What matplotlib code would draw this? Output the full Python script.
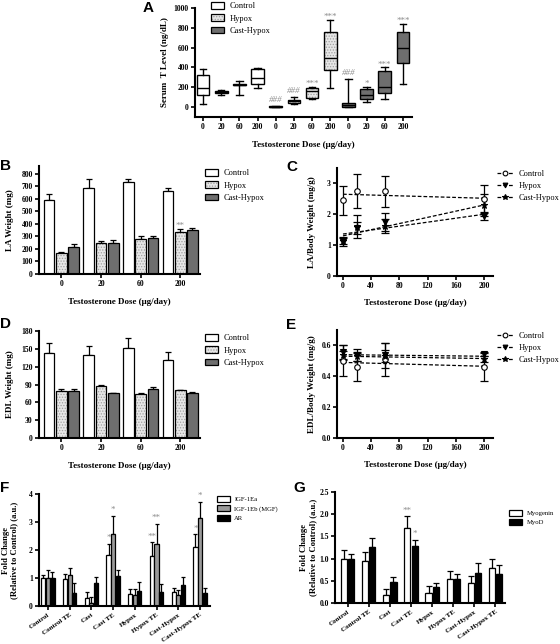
import matplotlib

matplotlib.use("Agg")
import matplotlib.pyplot as plt
import numpy as np
from matplotlib.lines import Line2D
from matplotlib.patches import Patch, PathPatch

W, H = 560, 644
SERIF = "Liberation Serif"
SANS = "Liberation Sans"
HATCH_FACE = "#e6e6e6"
HATCH_EDGE = "#a0a0a0"
DARK = "#6e6e6e"
MID = "#9a9a9a"
STAR = "#8c8c8c"
DASH = (0, (3, 1.6))

# Panel A: serum T boxes (Control x4, Hypox x4, Cast-Hypox x4)
A_DOSE_LABELS = ["0", "20", "60", "200"] * 3
A_GROUP = ["Control"] * 4 + ["Hypox"] * 4 + ["Cast-Hypox"] * 4
A_WHISLO = [35, 125, 120, 195, 0, 35, 85, 195, 0, 55, 85, 235]
A_Q1 = [125, 140, 220, 235, 2, 45, 90, 375, 5, 85, 145, 440]
A_MED = [195, 150, 225, 290, 5, 60, 165, 500, 20, 120, 200, 595]
A_Q3 = [320, 160, 230, 380, 10, 70, 195, 755, 45, 180, 365, 760]
A_WHISHI = [385, 175, 265, 395, 15, 100, 200, 880, 285, 205, 400, 835]
A_MARKS = ["", "", "", "", "###", "###", "***", "***", "###", "*", "***", "***"]

# Panels B and D: muscle weights by dose
DOSE_LABELS = ["0", "20", "60", "200"]
LA_CONTROL = [590, 685, 730, 660]
LA_CONTROL_SEM = [45, 75, 30, 25]
LA_HYPOX = [170, 245, 275, 335]
LA_HYPOX_SEM = [8, 20, 25, 25]
LA_CAST = [215, 245, 290, 350]
LA_CAST_SEM = [22, 22, 15, 20]
LA_HYPOX_MARKS = ["", "", "", "**"]

EDL_CONTROL = [143, 140, 151, 131]
EDL_CONTROL_SEM = [16, 15, 17, 14]
EDL_HYPOX = [79, 87, 74, 80]
EDL_HYPOX_SEM = [4, 3, 2, 1]
EDL_CAST = [79, 75, 83, 75]
EDL_CAST_SEM = [3, 1, 2, 3]

# Panels C and E: weight / body weight vs dose, with fitted dashed lines
DOSES = [0, 20, 60, 200]
FIT_X = [0, 200]
LABW_CONTROL = [2.45, 2.75, 2.75, 2.5]
LABW_CONTROL_SEM = [0.48, 0.55, 0.5, 0.45]
LABW_HYPOX = [1.1, 1.55, 1.75, 1.95]
LABW_HYPOX_SEM = [0.12, 0.2, 0.28, 0.12]
LABW_CAST = [1.15, 1.6, 1.62, 2.3]
LABW_CAST_SEM = [0.1, 0.37, 0.22, 0.35]
LABW_CONTROL_FIT = [2.65, 2.52]
LABW_HYPOX_FIT = [1.36, 2.0]
LABW_CAST_FIT = [1.3, 2.3]

EDLBW_CONTROL = [0.5, 0.46, 0.51, 0.46]
EDLBW_CONTROL_SEM = [0.1, 0.09, 0.105, 0.09]
EDLBW_HYPOX = [0.555, 0.54, 0.535, 0.545]
EDLBW_HYPOX_SEM = [0.045, 0.04, 0.08, 0.012]
EDLBW_CAST = [0.535, 0.53, 0.53, 0.51]
EDLBW_CAST_SEM = [0.03, 0.03, 0.04, 0.02]
EDLBW_CONTROL_FIT = [0.49, 0.465]
EDLBW_HYPOX_FIT = [0.54, 0.53]
EDLBW_CAST_FIT = [0.53, 0.515]

# Panels F and G: gene expression
GENE_GROUPS = ["Control", "Control TE", "Cast", "Cast TE",
               "Hypox", "Hypox TE", "Cast-Hypox", "Cast-Hypox TE"]
IGF_EA = [1.0, 0.95, 0.3, 1.83, 0.43, 1.78, 0.5, 2.12]
IGF_EA_SEM = [0.12, 0.18, 0.2, 0.4, 0.18, 0.5, 0.15, 0.45]
IGF_EA_MARKS = ["", "", "", "*", "", "**", "", "*"]
IGF_EB = [1.0, 1.1, 0.12, 2.57, 0.4, 2.23, 0.4, 3.16]
IGF_EB_SEM = [0.3, 0.27, 0.2, 0.65, 0.2, 0.7, 0.18, 0.57]
IGF_EB_MARKS = ["", "", "", "*", "", "**", "", "*"]
AR = [1.0, 0.48, 0.83, 1.07, 0.55, 0.5, 0.75, 0.45]
AR_SEM = [0.2, 0.33, 0.2, 0.2, 0.3, 0.27, 0.28, 0.2]

MYOGENIN = [1.0, 0.95, 0.18, 1.7, 0.23, 0.55, 0.45, 0.78]
MYOGENIN_SEM = [0.2, 0.2, 0.14, 0.25, 0.16, 0.18, 0.15, 0.2]
MYOGENIN_MARKS = ["", "", "", "**", "", "", "", ""]
MYOD = [1.0, 1.27, 0.47, 1.28, 0.35, 0.54, 0.67, 0.65]
MYOD_SEM = [0.1, 0.2, 0.11, 0.15, 0.1, 0.12, 0.22, 0.2]
MYOD_MARKS = ["", "", "", "*", "", "", "", ""]

plt.rcParams.update({
    "font.family": [SERIF, "DejaVu Serif"],
    "font.weight": "bold",
    "axes.labelweight": "bold",
    "hatch.linewidth": 0.6,
})


def add_axes_px(fig, left, top, right, bottom):
    return fig.add_axes([left / W, 1 - bottom / H, (right - left) / W, (bottom - top) / H])


def style_axes(ax, labelsize=5.5):
    for side in ("top", "right"):
        ax.spines[side].set_visible(False)
    for side in ("left", "bottom"):
        ax.spines[side].set_linewidth(1.5)
    ax.tick_params(direction="out", length=3, width=1.2, labelsize=labelsize, pad=1.5)


def box_handle(kind):
    if kind == "hatch":
        return (Patch(facecolor=HATCH_FACE, edgecolor=HATCH_EDGE, hatch="......", linewidth=0),
                Patch(fill=False, edgecolor="black", linewidth=0.9))
    return Patch(facecolor=kind, edgecolor="black", linewidth=0.9)


def put_legend(fig, handles, labels, x, y, size, spacing, hl=1.6, hh=0.85):
    fig.legend(handles, labels, loc="upper left", bbox_to_anchor=(x / W, 1 - y / H),
               bbox_transform=fig.transFigure, frameon=False, borderpad=0, borderaxespad=0,
               handlelength=hl, handleheight=hh, handletextpad=0.6, labelspacing=spacing,
               prop={"family": SERIF, "weight": "normal", "size": size})


def bar_series(ax, x, heights, sems, kind, width, capsize=2.2):
    heights = np.asarray(heights, dtype=float)
    sems = np.asarray(sems, dtype=float)
    ax.errorbar(x, heights, yerr=[np.zeros_like(sems), sems], fmt="none", ecolor="black",
                elinewidth=0.9, capsize=capsize, capthick=0.9, zorder=1)
    if kind == "hatch":
        ax.bar(x, heights, width, color=HATCH_FACE, edgecolor=HATCH_EDGE, hatch="......",
               linewidth=0, zorder=2)
        ax.bar(x, heights, width, fill=False, edgecolor="black", linewidth=0.9, zorder=3)
    else:
        ax.bar(x, heights, width, color=kind, edgecolor="black", linewidth=0.9, zorder=2)


def mark_bars(ax, x, heights, sems, marks, offset, size):
    for xi, h, s, m in zip(x, heights, sems, marks):
        if m:
            ax.text(xi, h + s + offset, m, ha="center", va="baseline", color=STAR,
                    fontsize=size, fontweight="normal")


def dose_series(ax, means, sems, fit, marker, mfc, ms, label):
    ax.errorbar(DOSES, means, yerr=sems, fmt="none", ecolor="black", elinewidth=0.9,
                capsize=2.6, capthick=0.9, zorder=2)
    ax.plot(FIT_X, fit, ls=DASH, color="black", lw=0.9, zorder=1)
    ax.plot(DOSES, means, ls="none", marker=marker, mfc=mfc, mec="black", ms=ms,
            mew=0.8, zorder=3)
    return Line2D([], [], color="black", ls=DASH, lw=0.9, marker=marker, mfc=mfc,
                  mec="black", ms=ms * 0.85, mew=0.8, label=label)


def panel_letter(fig, letter, x, y):
    fig.text(x / W, 1 - y / H, letter, family=SANS, fontweight="bold", fontsize=11,
             ha="left", va="center")


fig = plt.figure(figsize=(W / 100, H / 100), dpi=100)
fig.patch.set_facecolor("white")

# ---------------- A
ax = add_axes_px(fig, 195, 8, 412, 117)
style_axes(ax)
pos = np.arange(1, len(A_MED) + 1)
stats = [{"med": m, "q1": a, "q3": b, "whislo": lo, "whishi": hi, "fliers": []}
         for m, a, b, lo, hi in zip(A_MED, A_Q1, A_Q3, A_WHISLO, A_WHISHI)]
bp = ax.bxp(stats, positions=pos, widths=0.7, capwidths=0.36, patch_artist=True,
            showfliers=False,
            boxprops={"linewidth": 1.0, "edgecolor": "black"},
            medianprops={"color": "black", "linewidth": 1.0},
            whiskerprops={"linewidth": 1.0}, capprops={"linewidth": 1.0})
group_face = {"Control": "white", "Hypox": HATCH_FACE, "Cast-Hypox": DARK}
for box, grp in zip(bp["boxes"], A_GROUP):
    box.set_facecolor(group_face[grp])
    if grp == "Hypox":
        box.set_edgecolor(HATCH_EDGE)
        box.set_hatch("......")
        box.set_linewidth(0)
        ax.add_patch(PathPatch(box.get_path(), fill=False, edgecolor="black",
                               linewidth=1.0, zorder=box.get_zorder() + 0.1))
for p, hi, m in zip(pos, A_WHISHI, A_MARKS):
    if m:
        hashed = m.startswith("#")
        ax.text(p, hi + (40 if hashed else 10), m, ha="center", va="baseline", color=STAR,
                fontsize=6.5, fontweight="normal", style="italic" if hashed else "normal")
ax.set_xlim(0.56, 12.5)
ax.set_ylim(-100, 1000)
ax.set_yticks([0, 200, 400, 600, 800, 1000])
ax.set_xticks(pos)
ax.set_xticklabels(A_DOSE_LABELS)
ax.set_ylabel("Serum  T Level (ng/dL)", fontsize=6.5)
ax.yaxis.set_label_coords(-0.12, 0.5)
ax.set_xlabel("Testosterone Dose (μg/day)", fontsize=6.5, labelpad=7)
put_legend(fig, [box_handle("white"), box_handle("hatch"), box_handle(DARK)],
           ["Control", "Hypox", "Cast-Hypox"], 211, 2, 6, 0.5)
panel_letter(fig, "A", 143, 8)

# ---------------- B and D
gx = np.arange(len(DOSE_LABELS))
bw, off = 0.27, 0.31
for top, bottom, ylim, yticks, ylabel, data, letter_y in [
    (166, 274, (0, 860), range(0, 801, 100), "LA Weight (mg)",
     (LA_CONTROL, LA_CONTROL_SEM, LA_HYPOX, LA_HYPOX_SEM, LA_CAST, LA_CAST_SEM), 166),
    (331, 438, (0, 180), range(0, 181, 30), "EDL Weight (mg)",
     (EDL_CONTROL, EDL_CONTROL_SEM, EDL_HYPOX, EDL_HYPOX_SEM, EDL_CAST, EDL_CAST_SEM), 324),
]:
    ax = add_axes_px(fig, 39, top, 200, bottom)
    style_axes(ax)
    c, cs, h, hs, k, ks = data
    bar_series(ax, gx - off, c, cs, "white", bw)
    bar_series(ax, gx, h, hs, "hatch", bw)
    bar_series(ax, gx + off, k, ks, DARK, bw)
    if ylabel.startswith("LA"):
        mark_bars(ax, gx, h, hs, LA_HYPOX_MARKS, 8, 6.5)
    ax.set_xlim(-0.565, 3.5)
    ax.set_ylim(*ylim)
    ax.set_yticks(list(yticks))
    ax.set_xticks(gx)
    ax.set_xticklabels(DOSE_LABELS)
    ax.set_ylabel(ylabel, fontsize=6.5)
    ax.yaxis.set_label_coords(-0.157, 0.5)
    ax.set_xlabel("Testosterone Dose (μg/day)", fontsize=6.5, labelpad=7)
    put_legend(fig, [box_handle("white"), box_handle("hatch"), box_handle(DARK)],
               ["Control", "Hypox", "Cast-Hypox"], 205, top + 3, 6, 0.5)
    panel_letter(fig, "B" if ylabel.startswith("LA") else "D", 0, letter_y)

# ---------------- C and E
for top, bottom, ylim, yticks, ylabel, series, letter, letter_y in [
    (168, 276, (0, 3.5), [0, 1, 2, 3], "LA/Body Weight (mg/g)",
     [(LABW_CONTROL, LABW_CONTROL_SEM, LABW_CONTROL_FIT),
      (LABW_HYPOX, LABW_HYPOX_SEM, LABW_HYPOX_FIT),
      (LABW_CAST, LABW_CAST_SEM, LABW_CAST_FIT)], "C", 167),
    (330, 438, (0, 0.7), [0.0, 0.2, 0.4, 0.6], "EDL/Body Weight (mg/g)",
     [(EDLBW_CONTROL, EDLBW_CONTROL_SEM, EDLBW_CONTROL_FIT),
      (EDLBW_HYPOX, EDLBW_HYPOX_SEM, EDLBW_HYPOX_FIT),
      (EDLBW_CAST, EDLBW_CAST_SEM, EDLBW_CAST_FIT)], "E", 325),
]:
    ax = add_axes_px(fig, 337, top, 493, bottom)
    style_axes(ax)
    handles = []
    for (m, s, f), marker, mfc, ms, lab in zip(
            series, ["o", "v", "*"], ["white", "black", "black"], [4.0, 4.0, 5.0],
            ["Control", "Hypox", "Cast-Hypox"]):
        handles.append(dose_series(ax, m, s, f, marker, mfc, ms, lab))
    ax.set_xlim(-8.5, 213)
    ax.set_ylim(*ylim)
    ax.set_yticks(yticks)
    if letter == "E":
        ax.set_yticklabels([f"{v:.1f}" for v in yticks])
    ax.set_xticks(range(0, 201, 40))
    ax.set_ylabel(ylabel, fontsize=6.5)
    ax.yaxis.set_label_coords(-0.135, 0.5)
    ax.set_xlabel("Testosterone Dose (μg/day)", fontsize=6.5, labelpad=6)
    put_legend(fig, handles, [h.get_label() for h in handles], 497, top + 2, 6, 0.45,
               hl=2.0, hh=0.7)
    panel_letter(fig, letter, 286, letter_y)

# ---------------- F
ax = add_axes_px(fig, 39, 494, 210, 606)
style_axes(ax)
fx = np.arange(len(GENE_GROUPS))
fw, foff = 0.19, 0.21
bar_series(ax, fx - foff, IGF_EA, IGF_EA_SEM, "white", fw, capsize=1.6)
bar_series(ax, fx, IGF_EB, IGF_EB_SEM, MID, fw, capsize=1.6)
bar_series(ax, fx + foff, AR, AR_SEM, "black", fw, capsize=1.6)
mark_bars(ax, fx - foff, IGF_EA, IGF_EA_SEM, IGF_EA_MARKS, 0.13, 6.5)
mark_bars(ax, fx, IGF_EB, IGF_EB_SEM, IGF_EB_MARKS, 0.13, 6.5)
ax.set_xlim(-0.41, 7.46)
ax.set_ylim(0, 4)
ax.set_yticks([0, 1, 2, 3, 4])
ax.set_xticks(fx)
ax.set_xticklabels(GENE_GROUPS, rotation=35, ha="right", rotation_mode="anchor",
                   fontsize=5)
ax.set_ylabel("Fold Change\n(Relative to Control) (a.u.)", fontsize=6.2, linespacing=1.1)
ax.yaxis.set_label_coords(-0.12, 0.5)
put_legend(fig, [box_handle("white"), box_handle(MID), box_handle("black")],
           ["IGF-1Ea", "IGF-1Eb (MGF)", "AR"], 217, 496, 4.8, 0.45, hl=2.0, hh=1.0)
panel_letter(fig, "F", 0, 488)

# ---------------- G
ax = add_axes_px(fig, 335, 492, 505, 603)
style_axes(ax)
gx2 = np.arange(len(GENE_GROUPS))
gw, goff = 0.29, 0.17
bar_series(ax, gx2 - goff, MYOGENIN, MYOGENIN_SEM, "white", gw, capsize=2.0)
bar_series(ax, gx2 + goff, MYOD, MYOD_SEM, "black", gw, capsize=2.0)
mark_bars(ax, gx2 - goff, MYOGENIN, MYOGENIN_SEM, MYOGENIN_MARKS, 0.08, 6.5)
mark_bars(ax, gx2 + goff, MYOD, MYOD_SEM, MYOD_MARKS, 0.08, 6.5)
ax.set_xlim(-0.6, 7.45)
ax.set_ylim(0, 2.5)
ax.set_yticks([0.0, 0.5, 1.0, 1.5, 2.0, 2.5])
ax.set_yticklabels([f"{v:.1f}" for v in [0.0, 0.5, 1.0, 1.5, 2.0, 2.5]])
ax.set_xticks(gx2)
ax.set_xticklabels(GENE_GROUPS, rotation=35, ha="right", rotation_mode="anchor",
                   fontsize=5)
ax.set_ylabel("Fold Change\n(Relative to Control) (a.u.)", fontsize=6.2, linespacing=1.1)
ax.yaxis.set_label_coords(-0.107, 0.5)
put_legend(fig, [box_handle("white"), box_handle("black")], ["Myogenin", "MyoD"],
           509, 510, 4.8, 0.35, hl=2.0, hh=1.0)
panel_letter(fig, "G", 293, 488)

fig.savefig("out.png", dpi=100, facecolor="white")
